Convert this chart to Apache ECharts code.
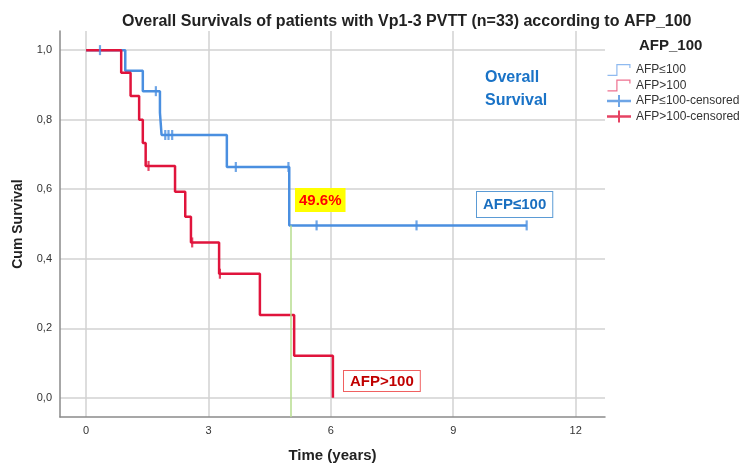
<!DOCTYPE html>
<html>
<head>
<meta charset="utf-8">
<script src="https://cdn.jsdelivr.net/npm/echarts@6/dist/echarts.min.js"></script>
<style>
  html, body { margin: 0; padding: 0; background: #fff; }
  #chart { width: 740px; height: 463px; }
</style>
</head>
<body>
<div id="chart"></div>
<script>
// Kaplan-Meier estimates (time in years, cum survival)
const lowEventTimes = [0.96, 1.39, 1.81, 1.85, 3.45, 4.98];
const lowEventSurv = [0.941, 0.882, 0.82, 0.756, 0.664, 0.496];
const lowCensored = [0.34, 1.71, 1.94, 2.02, 2.11, 3.67, 4.96, 5.65, 8.10, 10.80];

const highEventTimes = [0.86, 1.09, 1.30, 1.39, 1.46, 2.18, 2.43, 2.57, 3.26, 4.26, 5.10, 6.05];
const highEventSurv = [0.935, 0.868, 0.80, 0.733, 0.667, 0.593, 0.521, 0.447, 0.357, 0.238, 0.121, 0];
const highCensored = [1.53, 2.60, 3.28];

const xTicks = [0, 3, 6, 9, 12];
const yTicks = [0, 0.2, 0.4, 0.6, 0.8, 1.0];
const medianMark = 5.02; // green reference line
const medianValue = 0.496;

const blue = "#4a8fe0";
const red = "#e0143c";

// build step points for a KM curve
function stepPoints(times, surv, endT) {
  let pts = [[0, 1]];
  let s = 1;
  times.forEach(function (t, i) {
    pts.push([t, s]);
    s = surv[i];
    pts.push([t, s]);
  });
  if (endT > times[times.length - 1]) pts.push([endT, s]);
  return pts;
}
function survAt(t, times, surv) {
  let s = 1;
  for (let i = 0; i < times.length; i++) {
    if (times[i] <= t) s = surv[i];
  }
  return s;
}

const lowLine = stepPoints(lowEventTimes, lowEventSurv, Math.max.apply(null, lowCensored));
const highLine = stepPoints(highEventTimes, highEventSurv, 0);
const lowMarks = lowCensored.map(t => [t, survAt(t, lowEventTimes, lowEventSurv)]);
const highMarks = highCensored.map(t => [t, survAt(t, highEventTimes, highEventSurv)]);

const font = "Arial, 'Liberation Sans', sans-serif";
const stepIcon = "path://M0,10.8 L8.8,10.8 L8.8,0 L23,0 L23,4 L21.8,4 L21.8,1.2 L10,1.2 L10,12 L0,12 Z";
const crossIcon = "path://M0,4.8 L24,4.8 L24,7.2 L0,7.2 Z M11,0 L13,0 L13,12 L11,12 Z";

const chart = echarts.init(document.getElementById("chart"));
const option = {
  animation: false,
  backgroundColor: "#fff",
  textStyle: { fontFamily: font },
  title: {
    text: "Overall Survivals of patients with Vp1-3 PVTT (n=33) according to AFP_100",
    left: 117,
    top: 9,
    textStyle: { fontSize: 16, fontWeight: "bold", color: "#222", fontFamily: font },
  },
  grid: { left: 60, right: 135, top: 31, bottom: 46, containLabel: false, outerBoundsMode: "none" },
  legend: {
    orient: "vertical",
    left: 602,
    top: 59,
    itemWidth: 24,
    itemHeight: 12,
    itemGap: 3.5,
    selectedMode: false,
    textStyle: { fontSize: 12, color: "#333", fontFamily: font },
    data: [
      { name: "AFP≤100", icon: stepIcon, itemStyle: { color: "#8fbaf0" } },
      { name: "AFP>100", icon: stepIcon, itemStyle: { color: "#ee7090" } },
      { name: "AFP≤100-censored", icon: crossIcon, itemStyle: { color: blue } },
      { name: "AFP>100-censored", icon: crossIcon, itemStyle: { color: red } },
    ],
  },
  xAxis: {
    type: "value",
    min: -0.64,
    max: 12.72,
    name: "Time (years)",
    nameLocation: "middle",
    nameGap: 31,
    nameTextStyle: { fontSize: 15, fontWeight: "bold", color: "#222", fontFamily: font },
    axisLine: { onZero: false, lineStyle: { color: "#8a8a8a", width: 1.5 } },
    axisTick: { show: false, customValues: xTicks },
    axisLabel: { customValues: xTicks, fontSize: 11, color: "#333", margin: 8 },
    splitLine: { show: true, lineStyle: { color: "#d2d2d2", width: 1.5 } },
  },
  yAxis: {
    type: "value",
    min: -0.055,
    max: 1.055,
    name: "Cum Survival",
    nameLocation: "middle",
    nameGap: 35,
    nameTextStyle: { fontSize: 14, fontWeight: "bold", color: "#222", fontFamily: font },
    axisLine: { show: true, onZero: false, lineStyle: { color: "#8a8a8a", width: 1.5 } },
    axisTick: { show: false, customValues: yTicks },
    axisLabel: {
      customValues: yTicks,
      fontSize: 11,
      color: "#333",
      margin: 8,
      formatter: v => v.toFixed(1).replace(".", ","),
    },
    splitLine: { show: true, lineStyle: { color: "#d2d2d2", width: 1.5 } },
  },
  series: [
    {
      name: "AFP≤100",
      type: "line",
      data: lowLine,
      symbol: "none",
      lineStyle: { color: blue, width: 2.5 },
      itemStyle: { color: blue },
      z: 2,
      markLine: {
        silent: true,
        symbol: "none",
        label: { show: false },
        lineStyle: { color: "#b6dc8e", width: 1.5, type: "solid" },
        data: [[{ coord: [medianMark, medianValue] }, { coord: [medianMark, -0.055] }]],
      },
    },
    {
      name: "AFP>100",
      type: "line",
      data: highLine,
      symbol: "none",
      lineStyle: { color: red, width: 2.5 },
      itemStyle: { color: red },
      z: 3,
    },
    {
      name: "AFP≤100-censored",
      type: "scatter",
      data: lowMarks,
      symbol: "rect",
      symbolSize: [2.2, 10],
      itemStyle: { color: blue },
      z: 4,
    },
    {
      name: "AFP>100-censored",
      type: "scatter",
      data: highMarks,
      symbol: "rect",
      symbolSize: [2.2, 10],
      itemStyle: { color: red },
      z: 4,
    },
  ],
  graphic: [
    {
      type: "text",
      left: 639,
      top: 38,
      z: 100,
      style: { text: "AFP_100", font: "bold 15px " + font, fill: "#222" },
    },
    {
      type: "text",
      left: 485,
      top: 66,
      z: 100,
      style: { text: "Overall\nSurvival", font: "bold 16px " + font, fill: "#1a73c7", lineHeight: 23 },
    },
    {
      type: "text",
      left: 295,
      top: 188,
      z: 100,
      style: {
        text: "49.6%", font: "bold 15px " + font, fill: "#ff0000",
        backgroundColor: "#ffff00", padding: [5, 4, 4, 4],
      },
    },
    {
      type: "text",
      left: 476,
      top: 191,
      z: 100,
      style: {
        text: "AFP≤100", font: "bold 15px " + font, fill: "#1a6fc0",
        backgroundColor: "#fff", borderColor: "#5b9bd5", borderWidth: 1, padding: [5, 6, 5, 6],
      },
    },
    {
      type: "text",
      left: 343,
      top: 370,
      z: 100,
      style: {
        text: "AFP>100", font: "bold 15px " + font, fill: "#c00000",
        backgroundColor: "#fff", borderColor: "#f06060", borderWidth: 1, padding: [3, 6, 2, 6],
      },
    },
  ],
};
chart.setOption(option);
</script>
</body>
</html>
